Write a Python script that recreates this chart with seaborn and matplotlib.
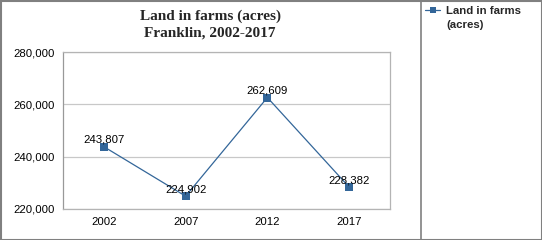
import matplotlib
matplotlib.use("Agg")
import matplotlib.pyplot as plt
import seaborn as sns
import pandas as pd
from matplotlib.lines import Line2D
from matplotlib.patches import Rectangle
from matplotlib.ticker import FuncFormatter

years = ["2002", "2007", "2012", "2017"]
acres = [243807, 224902, 262609, 228382]
series_name = "Land in farms (acres)"
legend_lines = ["Land in farms", "(acres)"]
title_lines = ["Land in farms (acres)", "Franklin, 2002-2017"]
yticks = [220000, 240000, 260000, 280000]

df = pd.DataFrame({"year": years, "value": acres})

sns.set_style("white")
plt.rcParams["font.family"] = ["Liberation Sans", "DejaVu Sans"]

W, H = 542, 240
fig = plt.figure(figsize=(W / 100, H / 100), dpi=100)
ax = fig.add_axes([63 / W, 1 - 209 / H, (390 - 63) / W, (209 - 52) / H])

color = "#336699"
sns.lineplot(data=df, x="year", y="value", ax=ax, color=color, lw=0.9,
             marker="s", markersize=6, markeredgewidth=0, sort=False,
             legend=False)

ax.set_xlim(-0.5, 3.5)
ax.set_ylim(220000, 280000)
ax.set_yticks(yticks)
ax.yaxis.set_major_formatter(FuncFormatter(lambda v, p: f"{int(v):,}"))
ax.set_xlabel("")
ax.set_ylabel("")
ax.grid(axis="y", color="#c8c8c8", lw=0.9)
ax.set_axisbelow(True)
for s in ax.spines.values():
    s.set_color("#b4b4b4")
    s.set_linewidth(0.9)
ax.spines["left"].set_color("#999999")
ax.tick_params(axis="both", labelsize=8.2, colors="#000000", length=3,
               width=0.8, pad=3)
ax.tick_params(axis="y", color="#999999")
ax.tick_params(axis="x", color="#999999")

for i, v in enumerate(acres):
    ax.annotate(f"{v:,}", (i, v), xytext=(0, 5), textcoords="offset points",
                ha="center", va="center", fontsize=8.2, color="black")

fig.text(210 / W, 1 - 16 / H, title_lines[0], ha="center", va="center",
         fontsize=11, fontweight="bold", family="Liberation Serif")
fig.text(210 / W, 1 - 33 / H, title_lines[1], ha="center", va="center",
         fontsize=11, fontweight="bold", family="Liberation Serif")

handle = Line2D([], [], color=color, lw=0.9, marker="s", markersize=5,
                markeredgewidth=0)
leg = fig.legend([handle], [legend_lines[0]], loc="upper left",
                 bbox_to_anchor=(423 / W, 1 - 4 / H), frameon=False,
                 prop={"size": 8.2, "weight": "bold"}, handlelength=1.3,
                 handletextpad=0.55, borderaxespad=0, borderpad=0.2)
fig.text(446 / W, 1 - 24.5 / H, legend_lines[1], ha="left", va="center",
         fontsize=8.2, fontweight="bold")

fig.add_artist(Line2D([420.5 / W, 420.5 / W], [0, 1], color="#808080", lw=1.2,
                      transform=fig.transFigure))
fig.add_artist(Rectangle((0.5 / W, 0.5 / H), (W - 1) / W, (H - 1) / H,
                         fill=False, edgecolor="#808080", lw=1.5,
                         transform=fig.transFigure))

fig.savefig("out.png", dpi=100)
